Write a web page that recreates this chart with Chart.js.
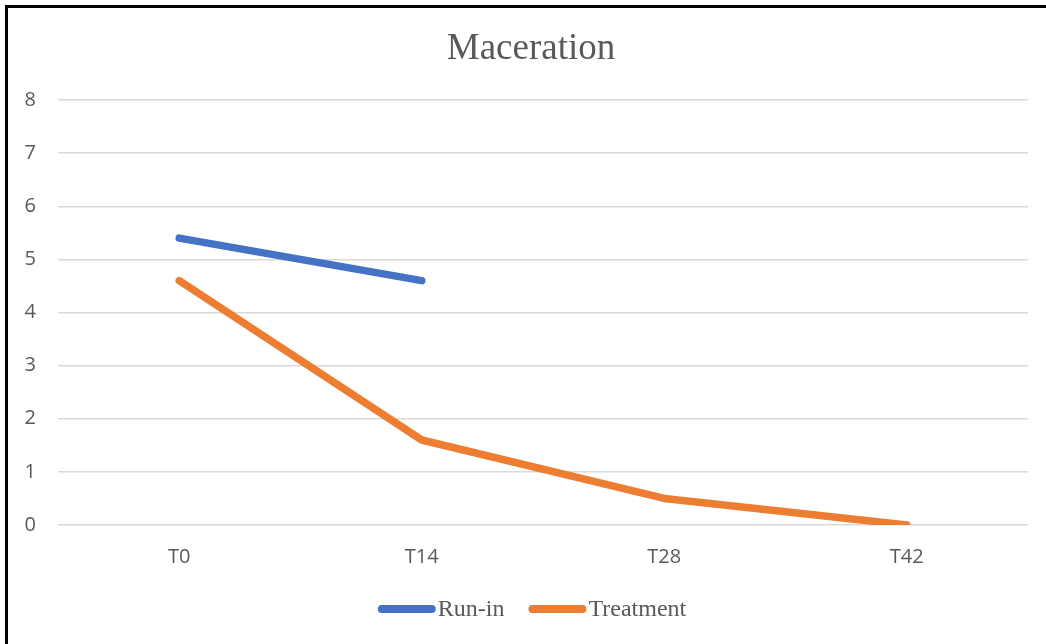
<!DOCTYPE html>
<html>
<head>
<meta charset="utf-8">
<script src="https://cdn.jsdelivr.net/npm/chart.js@4"></script>
<style>
  html, body { margin: 0; padding: 0; background: #fff; overflow: hidden; }
  #wrap { position: relative; width: 1046px; height: 644px; }
  #frame {
    position: absolute; left: 5px; top: 5px; width: 1100px; height: 700px;
    border-left: 3px solid #000; border-top: 3px solid #000; pointer-events: none;
  }
  canvas { display: block; }
</style>
</head>
<body>
<div id="wrap">
  <canvas id="c" width="1046" height="644"></canvas>
  <div id="frame"></div>
</div>
<script>
// Visit time points
const categories = ['T0', 'T14', 'T28', 'T42'];
// Maceration score per visit
const runIn = [5.4, 4.6, null, null];
const treatment = [4.6, 1.6, 0.5, 0];
const yTicks = [0, 1, 2, 3, 4, 5, 6, 7, 8];

const seriesNames = ['Run-in', 'Treatment'];
const seriesColors = ['#4472C4', '#ED7D31'];
const textGray = '#595959';

// Center the title on the framed chart box rather than the padded canvas
const titleShift = {
  id: 'titleShift',
  afterLayout(chart) {
    const t = chart.titleBlock;
    if (t) { t.left += 12; t.right += 12; }
  }
};

// Legend drawn as a single centered row: line sample followed directly by its name
const lineLegend = {
  id: 'lineLegend',
  afterDraw(chart) {
    const ctx = chart.ctx;
    const font = '24px "Liberation Serif", "Times New Roman", serif';
    const sampleLen = 50, cap = 4, textGap = 2, itemGap = 24, cy = 609;
    ctx.save();
    ctx.font = font;
    const items = chart.data.datasets.map(ds => ({
      label: ds.label, color: ds.borderColor, w: ctx.measureText(ds.label).width
    }));
    const total = items.reduce((s, it) => s + sampleLen + 2 * cap + textGap + it.w, 0) + itemGap * (items.length - 1);
    let x = 532 - total / 2;
    items.forEach(it => {
      ctx.strokeStyle = it.color;
      ctx.lineWidth = 8;
      ctx.lineCap = 'round';
      ctx.beginPath();
      ctx.moveTo(x + cap, cy);
      ctx.lineTo(x + cap + sampleLen, cy);
      ctx.stroke();
      x += sampleLen + 2 * cap + textGap;
      ctx.fillStyle = textGray;
      ctx.textBaseline = 'alphabetic';
      ctx.textAlign = 'left';
      ctx.fillText(it.label, x, 616);
      x += it.w + itemGap;
    });
    ctx.restore();
  }
};

new Chart(document.getElementById('c'), {
  type: 'line',
  data: {
    labels: categories,
    datasets: [
      {
        label: seriesNames[0], data: runIn,
        borderColor: seriesColors[0], backgroundColor: seriesColors[0],
        borderWidth: 7.5, borderCapStyle: 'round', borderJoinStyle: 'round',
        pointRadius: 0, pointHoverRadius: 0, tension: 0, spanGaps: false
      },
      {
        label: seriesNames[1], data: treatment,
        borderColor: seriesColors[1], backgroundColor: seriesColors[1],
        borderWidth: 7.5, borderCapStyle: 'round', borderJoinStyle: 'round',
        pointRadius: 0, pointHoverRadius: 0, tension: 0
      }
    ]
  },
  options: {
    responsive: false,
    animation: false,
    events: [],
    layout: { padding: { top: 6, left: 10, right: 18, bottom: 0 } },
    plugins: {
      legend: { display: false },
      tooltip: { enabled: false },
      title: {
        display: true,
        text: 'Maceration',
        color: textGray,
        font: { family: '"Liberation Serif", "Times New Roman", serif', size: 37, weight: 'normal', lineHeight: 1.2 },
        padding: { top: 21, bottom: 28.6 }
      }
    },
    scales: {
      x: {
        offset: true,
        grid: { display: false, drawTicks: false },
        border: { display: false },
        ticks: {
          color: textGray, padding: 20,
          font: { family: '"Open Sans", sans-serif', size: 20 }
        },
        afterFit(scale) { scale.height = 119; }
      },
      y: {
        min: 0, max: 8,
        afterBuildTicks(scale) { scale.ticks = yTicks.map(v => ({ value: v })); },
        grid: { color: '#D9D9D9', lineWidth: 1.5, drawTicks: false },
        border: { display: false },
        ticks: {
          color: textGray, padding: 22,
          font: { family: '"Open Sans", sans-serif', size: 20 }
        },
        afterFit(scale) { scale.width = 48; }
      }
    }
  },
  plugins: [titleShift, lineLegend]
});
</script>
</body>
</html>
